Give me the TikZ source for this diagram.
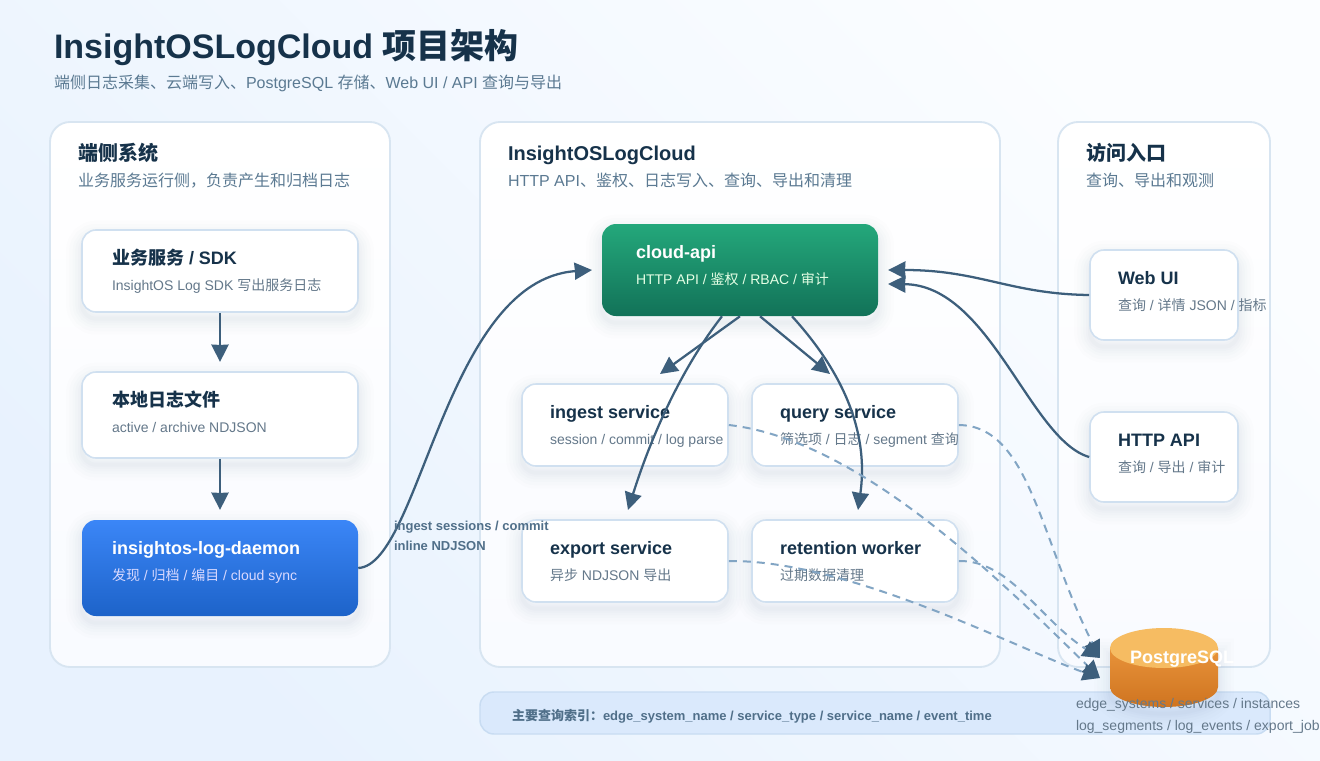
\documentclass[tikz,border=0pt]{standalone}
\usepackage{fontspec}
\setmainfont{Liberation Sans}
\newfontfamily\cjk{Noto Sans CJK SC}
\usetikzlibrary{arrows.meta}
\definecolor{inkdark}{HTML}{16324A}
\definecolor{inkmute}{HTML}{5B7A92}
\definecolor{inkbody}{HTML}{64788A}
\definecolor{panelline}{HTML}{D8E5F1}
\definecolor{cardline}{HTML}{D0E0F0}
\definecolor{arrowblue}{HTML}{3D5F7C}
\definecolor{dashblue}{HTML}{82A5C4}
\definecolor{pagetop}{HTML}{FBFDFF}
\definecolor{pagebot}{HTML}{E8F2FE}
\definecolor{panelbot}{HTML}{F9FBFF}
\definecolor{barfill}{HTML}{DAE9FC}
\definecolor{barline}{HTML}{C8DCF2}
\definecolor{daemontop}{HTML}{3B86F7}
\definecolor{daemonbot}{HTML}{1D63C9}
\definecolor{apitop}{HTML}{24A87B}
\definecolor{apibot}{HTML}{127258}
\definecolor{dbtop}{HTML}{E8933A}
\definecolor{dbbot}{HTML}{CF7420}
\definecolor{dbcap}{HTML}{F6BC62}

\begin{document}
\begin{tikzpicture}[
    x=0.75pt, y=-0.75pt,
    softshadow/.style={
      preaction={draw=#1, line width=24pt, draw opacity=0.008, transform canvas={yshift=-5pt}},
      preaction={draw=#1, line width=19pt, draw opacity=0.010, transform canvas={yshift=-5pt}},
      preaction={draw=#1, line width=14pt, draw opacity=0.012, transform canvas={yshift=-5pt}},
      preaction={draw=#1, line width=10pt, draw opacity=0.014, transform canvas={yshift=-5pt}},
      preaction={draw=#1, line width=6pt, draw opacity=0.016, transform canvas={yshift=-5pt}},
      preaction={draw=#1, line width=3pt, draw opacity=0.018, transform canvas={yshift=-5pt}}},
    panel/.style={draw=panelline, line width=1.4pt, rounded corners=15pt, inner sep=0pt,
                  top color=white, bottom color=panelbot},
    card/.style={draw=cardline, line width=1.2pt, rounded corners=10.5pt, fill=white, inner sep=0pt,
                 softshadow=arrowblue},
    colorcard/.style={rectangle, rounded corners=10.5pt, inner sep=0pt, softshadow=arrowblue},
    txt/.style={anchor=base west, inner sep=0pt, outer sep=0pt},
    pagetitle/.style={txt, font=\bfseries\fontsize{25.5pt}{30pt}\selectfont, text=inkdark},
    pagesub/.style={txt, font=\fontsize{12pt}{16pt}\selectfont, text=inkmute},
    paneltitle/.style={txt, font=\bfseries\fontsize{15pt}{20pt}\selectfont, text=inkdark},
    cardtitle/.style={txt, font=\bfseries\fontsize{13.5pt}{18pt}\selectfont, text=inkdark},
    cardsub/.style={txt, font=\fontsize{10.5pt}{14pt}\selectfont, text=inkbody},
    edgelabel/.style={txt, font=\bfseries\fontsize{9.75pt}{12pt}\selectfont, text=arrowblue!90!white},
    arr/.style={draw=arrowblue, line width=1.7pt,
                -{Stealth[length=13pt, width=12.75pt, inset=0.2pt]}},
    dasharr/.style={draw=dashblue, line width=1.5pt, dash pattern=on 6pt off 4.5pt,
                -{Stealth[length=13pt, width=12.75pt, inset=0.2pt, color=arrowblue]}}
  ]
    % page
    \shade[left color=pagetop, right color=pagebot, shading angle=-45]
      (0,0) rectangle (1320,760);
    \useasboundingbox (0,0) rectangle (1320,760);

    \node[pagetitle] (title) at (54,58) {InsightOSLogCloud {\cjk 项目架构}};
    \node[pagesub] (subtitle) at (54,88) {{\cjk 端侧日志采集、云端写入、}PostgreSQL {\cjk 存储、}Web UI / API {\cjk 查询与导出}};

    % panels
    \node[panel, minimum width=255pt, minimum height=408.75pt] (edge) at (220,394.5) {};
    \node[panel, minimum width=390pt, minimum height=408.75pt] (cloud) at (740,394.5) {};
    \node[panel, minimum width=159pt, minimum height=408.75pt] (access) at (1164,394.5) {};

    \node[paneltitle] (edgetitle) at (78,160) {\cjk 端侧系统};
    \node[pagesub] (edgesub) at (78,186) {\cjk 业务服务运行侧，负责产生和归档日志};
    \node[paneltitle] (cloudtitle) at (508,160) {InsightOSLogCloud};
    \node[pagesub] (cloudsub) at (508,186) {HTTP API{\cjk 、鉴权、日志写入、查询、导出和清理}};
    \node[paneltitle] (accesstitle) at (1086,160) {\cjk 访问入口};
    \node[pagesub] (accesssub) at (1086,186) {\cjk 查询、导出和观测};

    % bottom bar
    \node[draw=barline, fill=barfill, line width=1.1pt, rounded corners=10.5pt, inner sep=0pt,
          minimum width=592.5pt, minimum height=31.5pt] (indexbar) at (875,713) {};
    \node[edgelabel] (indextext) at (512,720)
      {{\cjk 主要查询索引：}edge\_system\_name / service\_type / service\_name / event\_time};

    % edge side
    \node[card, minimum width=207pt, minimum height=61.5pt] (sdk) at (220,271) {};
    \node[card, minimum width=207pt, minimum height=64.5pt] (logfile) at (220,415) {};
    \node[colorcard, minimum width=207pt, minimum height=72pt,
          top color=daemontop, bottom color=daemonbot] (daemon) at (220,568) {};

    \node[cardtitle] (sdktitle) at (112,264) {{\cjk 业务服务} / SDK};
    \node[cardsub] (sdksub) at (112,290) {InsightOS Log SDK {\cjk 写出服务日志}};
    \node[cardtitle] (logfiletitle) at (112,406) {\cjk 本地日志文件};
    \node[cardsub] (logfilesub) at (112,432) {active / archive NDJSON};
    \node[cardtitle, text=white] (daemontitle) at (112,554) {insightos-log-daemon};
    \node[cardsub, text=blue!15!white] (daemonsub) at (112,580) {{\cjk 发现} / {\cjk 归档} / {\cjk 编目} / cloud sync};

    % cloud side
    \node[colorcard, minimum width=207pt, minimum height=69pt,
          top color=apitop, bottom color=apibot] (api) at (740,270) {};
    \node[card, minimum width=154.5pt, minimum height=61.5pt] (ingest) at (625,425) {};
    \node[card, minimum width=154.5pt, minimum height=61.5pt] (query) at (855,425) {};
    \node[card, minimum width=154.5pt, minimum height=61.5pt] (export) at (625,561) {};
    \node[card, minimum width=154.5pt, minimum height=61.5pt] (retention) at (855,561) {};

    \node[cardtitle, text=white] (apititle) at (636,258) {cloud-api};
    \node[cardsub, text=green!10!white] (apisub) at (636,284) {HTTP API / {\cjk 鉴权} / RBAC / {\cjk 审计}};
    \node[cardtitle] (ingesttitle) at (550,418) {ingest service};
    \node[cardsub] (ingestsub) at (550,444) {session / commit / log parse};
    \node[cardtitle] (querytitle) at (780,418) {query service};
    \node[cardsub] (querysub) at (780,444) {{\cjk 筛选项} / {\cjk 日志} / segment {\cjk 查询}};
    \node[cardtitle] (exporttitle) at (550,554) {export service};
    \node[cardsub] (exportsub) at (550,580) {{\cjk 异步} NDJSON {\cjk 导出}};
    \node[cardtitle] (retentiontitle) at (780,554) {retention worker};
    \node[cardsub] (retentionsub) at (780,580) {\cjk 过期数据清理};

    % access side
    \node[card, minimum width=111pt, minimum height=67.5pt] (webui) at (1164,295) {};
    \node[card, minimum width=111pt, minimum height=67.5pt] (httpapi) at (1164,457) {};
    \node[cardtitle] (webuititle) at (1118,284) {Web UI};
    \node[cardsub] (webuisub) at (1118,310) {{\cjk 查询} / {\cjk 详情} JSON / {\cjk 指标}};
    \node[cardtitle] (httpapititle) at (1118,446) {HTTP API};
    \node[cardsub] (httpapisub) at (1118,472) {{\cjk 查询} / {\cjk 导出} / {\cjk 审计}};

    % database
    \shade[top color=dbtop, bottom color=dbbot, softshadow=arrowblue]
      (1110,648) -- (1110,687) arc[start angle=180, end angle=0, x radius=54, y radius=20]
      -- (1218,648) -- cycle;
    \fill[dbcap] (1164,648) ellipse[x radius=54, y radius=20];
    \node[txt, font=\bfseries\fontsize{13.5pt}{16pt}\selectfont, text=white] (pgsql) at (1130,663) {PostgreSQL};
    \node[cardsub] (tables1) at (1076,708) {edge\_systems / services / instances};
    \node[cardsub] (tables2) at (1076,730) {log\_segments / log\_events / export\_job};
    \coordinate (dbin1) at (1100,658);
    \coordinate (dbin2) at (1100,678);

    % connectors
    \coordinate (sdkhead) at (220,362);
    \coordinate (daemonhead) at (220,510);
    \coordinate (apiin) at (592,270);
    \coordinate (apir1) at (888,270);
    \coordinate (apir2) at (888,284);
    \coordinate (ingesthead) at (660,374);
    \coordinate (queryhead) at (830,374);
    \coordinate (exporthead) at (628,510);
    \coordinate (retentionhead) at (858,510);
    \draw[arr] (sdk.south) -- (sdkhead);
    \draw[arr] (logfile.south) -- (daemonhead);
    \draw[arr] (daemon.east) .. controls (420,565) and (445,280) .. (apiin);
    \draw[arr] (api.south) -- (ingesthead);
    \draw[arr] ([xshift=15pt]api.south) -- (queryhead);
    \draw[arr] ([xshift=-13.5pt]api.south) .. controls (680,370) and (650,440) .. (exporthead);
    \draw[arr] ([xshift=39pt]api.south) .. controls (850,380) and (868,440) .. (retentionhead);
    \draw[arr] (webui.west) .. controls (1010,294) and (980,270) .. (apir1);
    \draw[arr] (httpapi.west) .. controls (1030,440) and (990,285) .. (apir2);

    \draw[dasharr] (ingest.east) .. controls (860,440) and (1000,580) .. (dbin2);
    \draw[dasharr] (query.east) .. controls (1030,426) and (1040,540) .. (dbin1);
    \draw[dasharr] (export.east) .. controls (850,560) and (1020,650) .. (dbin2);
    \draw[dasharr] (retention.east) .. controls (1010,560) and (1040,620) .. (dbin1);

    \node[edgelabel] (edgelabel1) at (394,530) {ingest sessions / commit};
    \node[edgelabel] (edgelabel2) at (394,550) {inline NDJSON};
  \end{tikzpicture}
\end{document}
